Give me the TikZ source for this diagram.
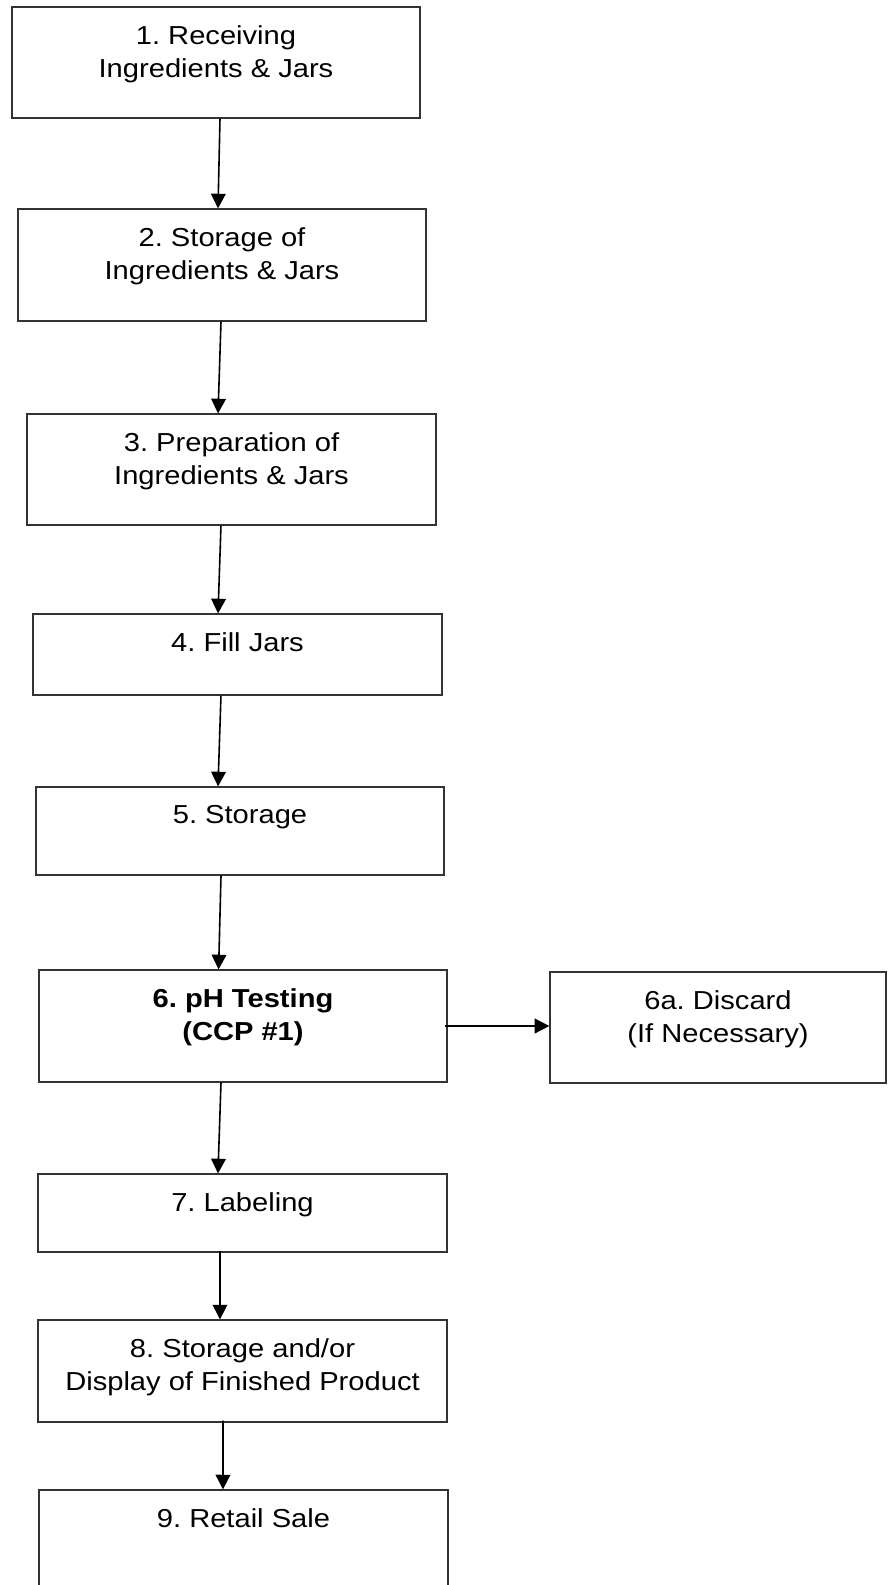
\documentclass[tikz,border=0pt]{standalone}
\usepackage{fontspec}
\setmainfont[FakeStretch=1.12]{Liberation Sans}
\usetikzlibrary{positioning,arrows.meta}
\frenchspacing

\tikzset{every picture/.style={line width=0.75pt}}
\tikzset{
  stepbox/.style={draw=black!80, line width=0.9pt, inner sep=0pt},
  boxsize/.style 2 args={minimum width=#1*0.75pt, minimum height=#2*0.75pt},
  steptext/.style={inner sep=0pt, align=center, font=\fontsize{19.5pt}{24.75pt}\selectfont},
  flow/.style={-{Triangle[length=11pt,width=11pt]}, line width=1.2pt}
}

\begin{document}
\begin{tikzpicture}[x=0.75pt,y=0.75pt,yscale=-1,xscale=1]
  \clip (0,0) rectangle (888,1585);

  %Boxes
  \node[stepbox, boxsize={408}{111}] (receiving) at (216,62.5) {};
  \node[stepbox, boxsize={408}{112}] (storing) at (222,265) {};
  \node[stepbox, boxsize={409}{111}] (preparing) at (231.5,469.5) {};
  \node[stepbox, boxsize={409}{81}] (filling) at (237.5,654.5) {};
  \node[stepbox, boxsize={408}{88}] (storage) at (240,831) {};
  \node[stepbox, boxsize={408}{112}] (testing) at (243,1026) {};
  \node[stepbox, boxsize={336}{111}] (discard) at (718,1027.5) {};
  \node[stepbox, boxsize={409}{78}] (labeling) at (242.5,1213) {};
  \node[stepbox, boxsize={409}{102}] (display) at (242.5,1371) {};
  \node[stepbox, boxsize={409}{120}] (sale) at (243.5,1550) {};

  %Texts
  \node[steptext, below=13.9pt of receiving.north] (receivingtext) {1. Receiving\\Ingredients \& Jars};
  \node[steptext, below=13.9pt of storing.north] (storingtext) {2. Storage of\\Ingredients \& Jars};
  \node[steptext, below=13.9pt of preparing.north] (preparingtext) {3. Preparation of\\Ingredients \& Jars};
  \node[steptext, below=13.9pt of filling.north] (fillingtext) {4. Fill Jars};
  \node[steptext, below=13.9pt of storage.north] (storagetext) {5. Storage};
  \node[steptext, font=\fontsize{19.5pt}{24.75pt}\selectfont\bfseries, below=13.9pt of testing.north] (testingtext) {6. pH Testing\\(CCP \#1)};
  \node[steptext, below=13.9pt of discard.north] (discardtext) {6a. Discard\\(If Necessary)};
  \node[steptext, below=13.9pt of labeling.north] (labelingtext) {7. Labeling};
  \node[steptext, below=13.9pt of display.north] (displaytext) {8. Storage and/or\\Display of Finished Product};
  \node[steptext, below=13.9pt of sale.north] (saletext) {9. Retail Sale};

  %Arrows
  \draw[flow] ([xshift=3pt]receiving.south) -- ([xshift=-3pt]storing.north);
  \draw[flow] ([xshift=-0.75pt]storing.south) -- ([xshift=-10.1pt]preparing.north);
  \draw[flow] ([xshift=-7.9pt]preparing.south) -- ([xshift=-14.6pt]filling.north);
  \draw[flow] ([xshift=-12.4pt]filling.south) -- ([xshift=-16.5pt]storage.north);
  \draw[flow] ([xshift=-14.25pt]storage.south) -- ([xshift=-18.3pt]testing.north);
  \draw[flow] ([xshift=-16.5pt]testing.south) -- ([xshift=-18.4pt]labeling.north);
  \draw[flow] ([xshift=-16.9pt,yshift=-1.5pt]labeling.south) -- ([xshift=-16.9pt]display.north);
  \draw[flow] ([xshift=-14.6pt,yshift=-1.5pt]display.south) -- ([xshift=-15.4pt]sale.north);
  \draw[flow] ([xshift=-2pt]testing.east) -- (testing.east -| discard.west);
\end{tikzpicture}
\end{document}
